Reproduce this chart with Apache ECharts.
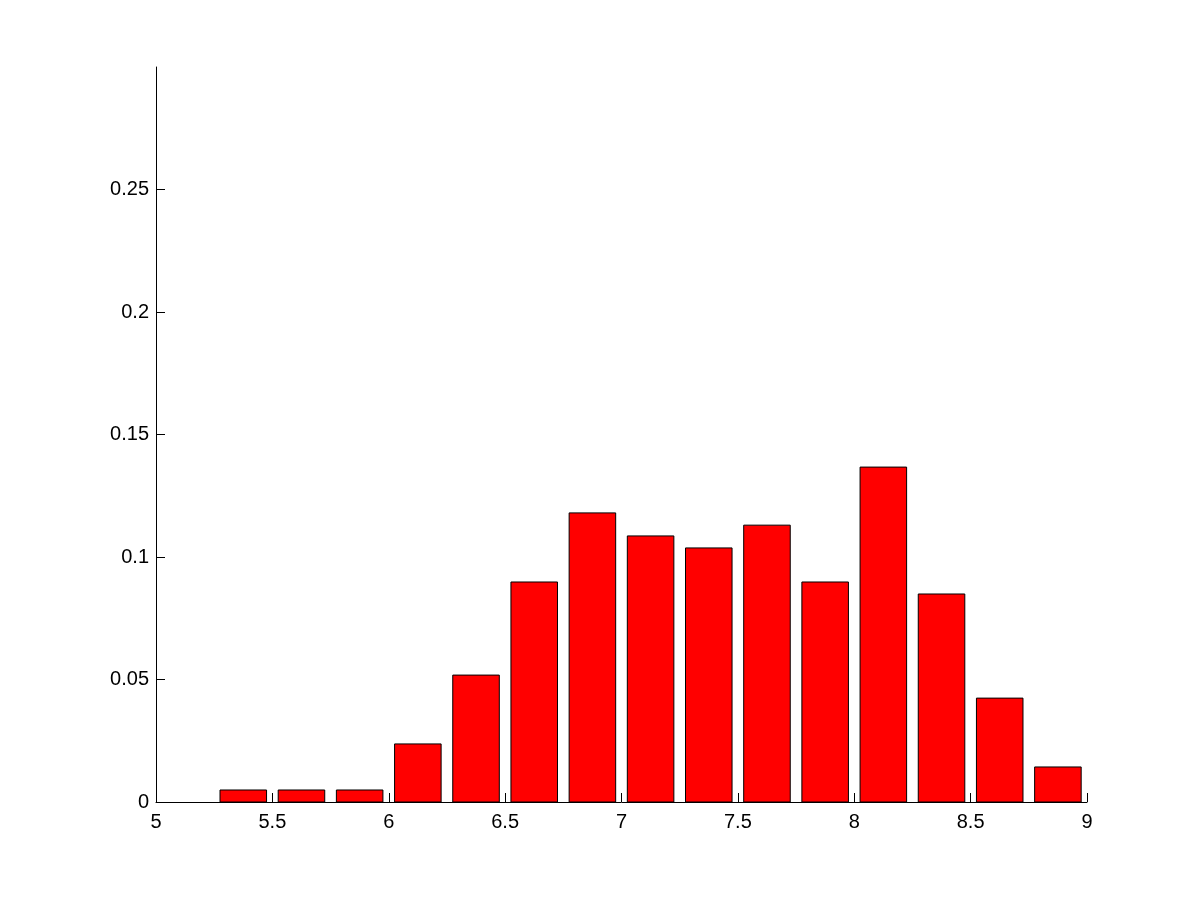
<!DOCTYPE html>
<html>
<head>
<meta charset="utf-8">
<script src="https://cdn.jsdelivr.net/npm/echarts@6/dist/echarts.min.js"></script>
<style>html,body{margin:0;padding:0;background:#fff;}#c{width:1201px;height:901px;}</style>
</head>
<body>
<div id="c"></div>
<script>
var binCenters = [5.375, 5.625, 5.875, 6.125, 6.375, 6.625, 6.875, 7.125, 7.375, 7.625, 7.875, 8.125, 8.375, 8.625, 8.875];
var frequencies = [0.0049, 0.0049, 0.0049, 0.0237, 0.0518, 0.0898, 0.118, 0.1086, 0.1037, 0.113, 0.0898, 0.1367, 0.0849, 0.0424, 0.0143];
var yTicks = [0, 0.05, 0.1, 0.15, 0.2, 0.25];
var halfWidth = 0.1;

var data = binCenters.map(function (x, i) { return [x, frequencies[i]]; });

var chart = echarts.init(document.getElementById('c'));
chart.setOption({
  animation: false,
  backgroundColor: '#ffffff',
  grid: { left: 156, right: 114, top: 67, bottom: 99, containLabel: false },
  xAxis: {
    type: 'value', min: 5, max: 9, interval: 0.5,
    axisLine: { show: true, lineStyle: { color: '#000', width: 1 } },
    axisTick: { show: true, inside: true, length: 9, lineStyle: { color: '#000' } },
    axisLabel: { color: '#000', fontFamily: 'Liberation Sans, Arial, sans-serif', fontSize: 20, margin: 10 },
    splitLine: { show: false }
  },
  yAxis: {
    type: 'value', min: 0, max: 0.3,
    axisLine: { show: true, lineStyle: { color: '#000', width: 1 } },
    axisTick: { show: true, inside: true, length: 9, lineStyle: { color: '#000' }, customValues: yTicks },
    axisLabel: {
      color: '#000', fontFamily: 'Liberation Sans, Arial, sans-serif', fontSize: 20, margin: 7,
      customValues: yTicks,
      formatter: function (v) { return String(parseFloat(v.toFixed(2))); }
    },
    splitLine: { show: false }
  },
  series: [{
    type: 'custom',
    data: data,
    encode: { x: 0, y: 1 },
    renderItem: function (params, api) {
      var x = api.value(0), y = api.value(1);
      var p0 = api.coord([x - halfWidth, y]);
      var p1 = api.coord([x + halfWidth, 0]);
      return {
        type: 'rect',
        shape: { x: p0[0], y: p0[1], width: p1[0] - p0[0], height: p1[1] - p0[1] },
        style: { fill: '#ff0000', stroke: '#000000', lineWidth: 1 }
      };
    }
  }]
});
</script>
</body>
</html>
